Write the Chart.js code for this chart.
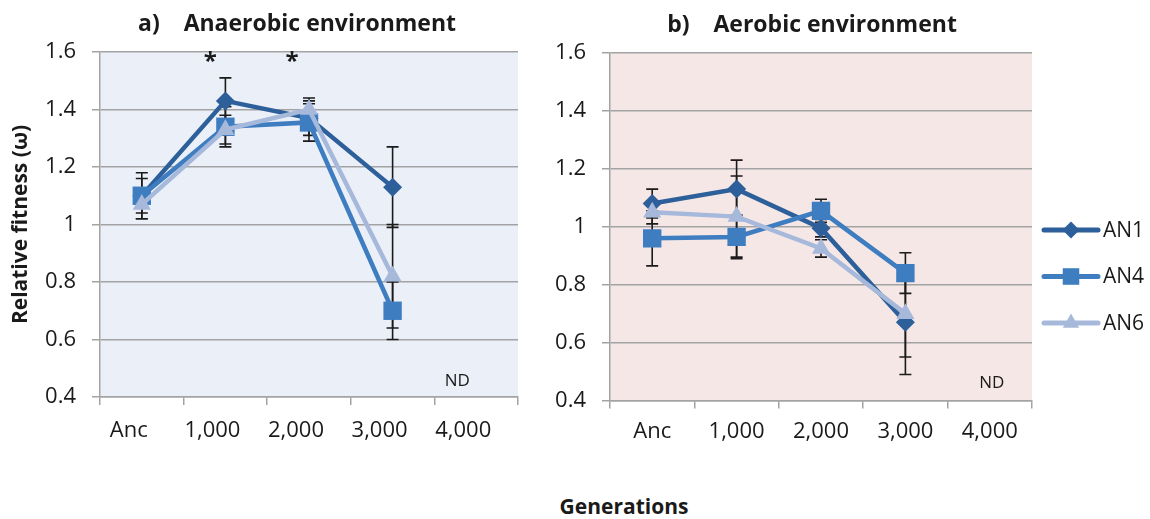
<!DOCTYPE html>
<html>
<head>
<meta charset="utf-8">
<script src="https://cdn.jsdelivr.net/npm/chart.js"></script>
<style>
  html, body { margin: 0; padding: 0; background: #fff; }
  body { width: 1150px; height: 519px; position: relative; overflow: hidden; font-family: 'Open Sans', sans-serif; }
  canvas { position: absolute; top: 0; }
  #chartA { left: 0; }
  #chartB { left: 530px; }
  #xTitle { position: absolute; left: 524px; width: 200px; top: 492px; line-height: 28px;
            text-align: center; font-weight: bold; font-size: 21px; color: #1a1a1a; }
</style>
</head>
<body>
<canvas id="chartA" width="540" height="460"></canvas>
<canvas id="chartB" width="620" height="460"></canvas>
<div id="xTitle">Generations</div>
<script>
// categories and series
const categories = ['Anc', '1,000', '2,000', '3,000', '4,000'];
const seriesNames = ['AN1', 'AN4', 'AN6'];

// a) anaerobic environment: means and error (+/-)
const anaerobicAN1 = [1.10, 1.43, 1.37, 1.13, null];
const anaerobicAN4 = [1.10, 1.34, 1.355, 0.70, null];
const anaerobicAN6 = [1.07, 1.33, 1.40, 0.82, null];
const anaerobicErrAN1 = [0.08, 0.08, 0.06, 0.14, null];
const anaerobicErrAN4 = [0.06, 0.07, 0.065, 0.10, null];
const anaerobicErrAN6 = [0.05, 0.05, 0.04, 0.18, null];

// b) aerobic environment
const aerobicAN1 = [1.08, 1.13, 0.995, 0.67, null];
const aerobicAN4 = [0.96, 0.965, 1.055, 0.84, null];
const aerobicAN6 = [1.05, 1.035, 0.925, 0.70, null];
const aerobicErrAN1 = [0.05, 0.10, 0.03, 0.18, null];
const aerobicErrAN4 = [0.095, 0.075, 0.04, 0.07, null];
const aerobicErrAN6 = [0.04, 0.14, 0.03, 0.15, null];

// annotations (category index, y value)
const anaerobicNotes = [
  { text: '*', cat: 1, value: 1.565, dx: -15, font: 'bold 24px "Open Sans"' },
  { text: '*', cat: 2, value: 1.565, dx: -17, font: 'bold 24px "Open Sans"' },
  { text: 'ND', cat: 4, value: 0.456, dx: -19, font: '17px "Open Sans"' }
];
const aerobicNotes = [
  { text: 'ND', cat: 4, value: 0.461, dx: 2, font: '17px "Open Sans"' }
];

const COLORS = ['#2D5F9A', '#3E7DC0', '#A6B9DB'];
const STYLES = ['rectRot', 'rect', 'triangle'];
const RADII = [9.5, 13, 10.5];
const GRID = '#A3A3A3';
const TEXT = '#1a1a1a';

Chart.defaults.font.family = "'Open Sans', sans-serif";
Chart.defaults.color = TEXT;

function makeSets(values, errs) {
  return values.map((data, i) => ({
    label: seriesNames[i],
    data: data,
    err: errs[i],
    borderColor: COLORS[i],
    backgroundColor: COLORS[i],
    pointBackgroundColor: COLORS[i],
    pointBorderColor: COLORS[i],
    pointBorderWidth: 0,
    borderWidth: 4.5,
    pointStyle: STYLES[i],
    pointRadius: RADII[i],
    pointHoverRadius: RADII[i],
    tension: 0,
    order: 2 - i
  }));
}

// plot area fill
const panelBg = {
  id: 'panelBg',
  beforeDraw(chart, args, opts) {
    const a = chart.chartArea, ctx = chart.ctx;
    ctx.save();
    ctx.fillStyle = opts.color;
    ctx.fillRect(a.left, a.top, a.right - a.left, a.bottom - a.top);
    ctx.restore();
  }
};

// vertical error bars with caps
const errorBars = {
  id: 'errorBars',
  beforeDatasetsDraw(chart) {
    const ctx = chart.ctx, y = chart.scales.y;
    ctx.save();
    ctx.strokeStyle = '#1b1b1b';
    ctx.lineWidth = 1.6;
    chart.data.datasets.forEach((ds, i) => {
      chart.getDatasetMeta(i).data.forEach((pt, j) => {
        const v = ds.data[j], e = ds.err[j];
        if (v == null || e == null) return;
        const top = y.getPixelForValue(v + e), bot = y.getPixelForValue(v - e), x = pt.x;
        ctx.beginPath();
        ctx.moveTo(x, top); ctx.lineTo(x, bot);
        ctx.moveTo(x - 6, top); ctx.lineTo(x + 6, top);
        ctx.moveTo(x - 6, bot); ctx.lineTo(x + 6, bot);
        ctx.stroke();
      });
    });
    ctx.restore();
  }
};

// asterisks and ND labels
const notes = {
  id: 'notes',
  afterDatasetsDraw(chart, args, opts) {
    const ctx = chart.ctx;
    ctx.save();
    ctx.fillStyle = TEXT;
    ctx.textAlign = 'center';
    ctx.textBaseline = 'middle';
    (opts.items || []).forEach(n => {
      ctx.font = n.font;
      ctx.fillText(n.text, chart.scales.x.getPixelForValue(n.cat) + n.dx, chart.scales.y.getPixelForValue(n.value));
    });
    ctx.restore();
  }
};

// legend: line with marker, to the right of plot b
const sideLegend = {
  id: 'sideLegend',
  afterDraw(chart, args, opts) {
    if (!opts.show) return;
    const ctx = chart.ctx, a = chart.chartArea;
    chart.data.datasets.forEach((ds, i) => {
      const y = a.top + opts.top + i * opts.gap;
      const x0 = a.right + opts.left, x1 = x0 + opts.lineLen;
      ctx.save();
      ctx.strokeStyle = ds.borderColor;
      ctx.lineWidth = 5;
      ctx.lineCap = 'round';
      ctx.beginPath(); ctx.moveTo(x0, y); ctx.lineTo(x1, y); ctx.stroke();
      ctx.fillStyle = ds.backgroundColor;
      Chart.helpers.drawPoint(ctx, { pointStyle: ds.pointStyle, radius: ds.pointRadius * 0.9, borderWidth: 0, rotation: 0 }, (x0 + x1) / 2, y);
      ctx.fillStyle = TEXT;
      ctx.font = '21px "Open Sans"';
      ctx.textAlign = 'left';
      ctx.textBaseline = 'middle';
      ctx.fillText(ds.label, x1 + 5, y + 1);
      ctx.restore();
    });
  }
};

function makeScales(cfg) {
  return {
    x: {
      type: 'category',
      offset: true,
      grid: {
        offset: true,
        drawOnChartArea: true,
        color: c => (c.index === categories.length ? GRID : 'rgba(0,0,0,0)'),
        tickColor: GRID,
        tickLength: 8,
        lineWidth: 1.5
      },
      border: { color: GRID, width: 1.5 },
      ticks: { font: { size: 22 }, color: TEXT, padding: cfg.xPad, labelOffset: cfg.labelOffset, maxRotation: 0, autoSkip: false },
      afterFit: s => { s.height = cfg.xHeight; }
    },
    y: {
      min: 0.4,
      max: 1.6,
      ticks: { stepSize: 0.2, font: { size: 22 }, color: TEXT, padding: 16, callback: v => String(Math.round(v * 10) / 10) },
      grid: { color: GRID, lineWidth: 1.5, tickLength: 8, tickColor: GRID },
      border: { color: GRID, width: 1.5 },
      title: {
        display: cfg.yTitle,
        text: 'Relative fitness (ω)',
        font: { size: 21, weight: 'bold' },
        color: TEXT,
        padding: { top: 8, bottom: 0 }
      },
      afterFit: s => { s.width = cfg.yWidth; }
    }
  };
}

function makeChart(id, title, titlePad, values, errs, bg, noteItems, cfg, legendShow) {
  return new Chart(document.getElementById(id), {
    type: 'line',
    data: { labels: categories, datasets: makeSets(values, errs) },
    options: {
      responsive: false,
      animation: false,
      devicePixelRatio: 1,
      layout: { padding: { left: 0, right: cfg.padRight, top: 0, bottom: 0 } },
      scales: makeScales(cfg),
      plugins: {
        legend: { display: false },
        tooltip: { enabled: false },
        title: {
          display: true,
          text: title,
          fullSize: false,
          font: { size: 23, weight: 'bold' },
          color: TEXT,
          padding: titlePad
        },
        panelBg: { color: bg },
        notes: { items: noteItems },
        sideLegend: { show: legendShow, left: 12, lineLen: 54, top: 177, gap: 46.5 }
      }
    },
    plugins: [panelBg, errorBars, notes, sideLegend]
  });
}

makeChart('chartA', 'a)\u00a0\u00a0\u00a0\u00a0Anaerobic environment\u00a0\u00a0\u00a0\u00a0',
  { top: 11, bottom: 13.4 },
  [anaerobicAN1, anaerobicAN4, anaerobicAN6],
  [anaerobicErrAN1, anaerobicErrAN4, anaerobicErrAN6],
  '#EAEFF8', anaerobicNotes,
  { xPad: 13, labelOffset: -13, xHeight: 63, yWidth: 100, yTitle: true, padRight: 22 }, false);

makeChart('chartB', 'b)\u00a0\u00a0\u00a0\u00a0Aerobic environment\u00a0\u00a0\u00a0',
  { top: 11.5, bottom: 13.9 },
  [aerobicAN1, aerobicAN4, aerobicAN6],
  [aerobicErrAN1, aerobicErrAN4, aerobicErrAN6],
  '#F5E7E6', aerobicNotes,
  { xPad: 10, labelOffset: 0, xHeight: 59.5, yWidth: 80, yTitle: false, padRight: 118 }, true);
</script>
</body>
</html>
